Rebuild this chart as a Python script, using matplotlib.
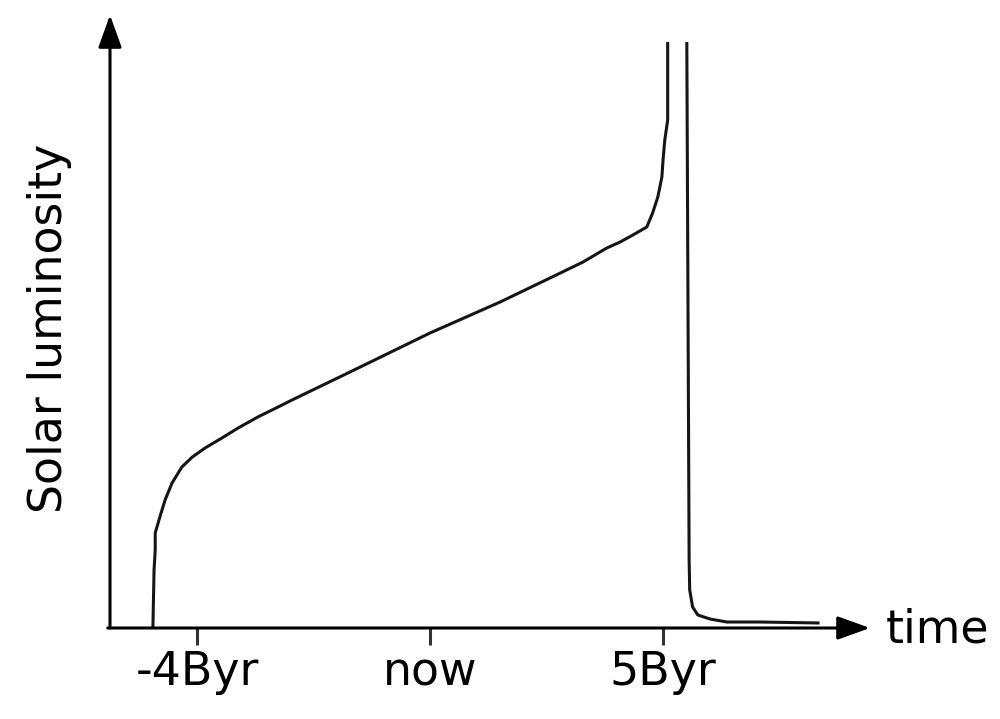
import numpy as np
import matplotlib
matplotlib.use('Agg')
import matplotlib.pyplot as plt

# Schematic solar luminosity history (arbitrary units)
# main sequence + red giant branch
rise_t = [-4.78, -4.76, -4.74, -4.74, -4.66, -4.57, -4.45, -4.28, -4.10, -3.88,
          -3.59, -3.31, -2.97, -2.62, -2.38, -1.38, 0.00, 1.21, 2.07, 2.64,
          3.05, 3.28, 3.50, 3.74, 3.84, 3.93, 4.00, 4.02, 4.05, 4.10, 4.10]
rise_lum = [0.00, 0.58, 0.78, 0.95, 1.11, 1.28, 1.45, 1.61, 1.71, 1.80,
            1.90, 2.00, 2.11, 2.21, 2.28, 2.56, 2.95, 3.26, 3.50, 3.66,
            3.80, 3.86, 3.93, 4.01, 4.15, 4.31, 4.51, 4.68, 4.88, 5.08, 5.86]

# collapse to white dwarf
fall_t = [4.43, 4.47, 4.48, 4.53, 4.62, 4.83, 5.12, 5.69, 6.72]
fall_lum = [5.86, 0.68, 0.38, 0.21, 0.13, 0.09, 0.06, 0.06, 0.05]

tick_pos = [-4.02, 0.0, 4.02]
tick_labels = ['-4Byr', 'now', '5Byr']

fig = plt.figure(figsize=(10, 7.19), dpi=100)
ax = fig.add_axes([0.11, (719 - 628) / 719, 0.76, (628 - 15) / 719])
ax.set_xlim(-5.52, 7.59)
ax.set_ylim(0, 6.13)

ax.plot(rise_t, rise_lum, color='#151515', lw=2.2, solid_capstyle='butt',
        solid_joinstyle='round')
ax.plot(fall_t, fall_lum, color='#151515', lw=2.2, solid_capstyle='butt',
        solid_joinstyle='round')

for s in ax.spines.values():
    s.set_visible(False)

# axes with arrow heads
arrow = dict(arrowstyle='-|>,head_length=1.0,head_width=0.36', lw=2.2,
             color='black', mutation_scale=20, shrinkA=0, shrinkB=0)
ax.annotate('', xy=(1, 0), xytext=(-0.003, 0), xycoords='axes fraction',
            arrowprops=arrow, annotation_clip=False)
ax.annotate('', xy=(0, 1), xytext=(0, 0), xycoords='axes fraction',
            arrowprops=arrow, annotation_clip=False)

ax.set_xticks(tick_pos)
ax.set_xticklabels(tick_labels, fontsize=33)
ax.set_yticks([])
ax.tick_params(axis='x', length=12, width=2.2, pad=4, color='#333333')

fig.text(0.05, (719 - 328) / 719, 'Solar luminosity', rotation=90,
         fontsize=33, ha='center', va='center')
fig.text(0.886, (719 - 630) / 719, 'time', fontsize=33, ha='left', va='center')

fig.savefig('out.png', dpi=100)
